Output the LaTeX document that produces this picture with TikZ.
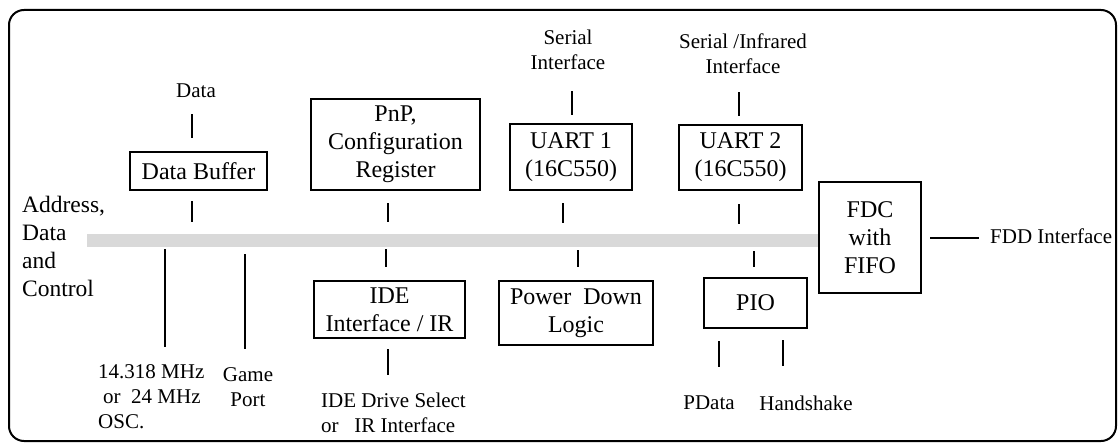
\documentclass[tikz,border=0pt]{standalone}
\usepackage{fontspec}
\setmainfont{Liberation Serif}
\definecolor{busgray}{HTML}{D9D9D9}
\begin{document}
\begin{tikzpicture}[x=1pt,y=-1pt,
  blk/.style={draw, line width=2pt, inner sep=0pt, align=center,
    font=\fontsize{24}{28}\selectfont},
  lbl/.style={inner sep=0pt, align=center, font=\fontsize{21}{25}\selectfont},
  wire/.style={line width=2.5pt},
  bus/.style={fill=busgray, draw=none, inner sep=0pt}]
\useasboundingbox (0,0) rectangle (1118,444);
\draw[line width=2pt, rounded corners=15pt] (9,10) rectangle (1116,441);
% bus
\node[bus, minimum width=731pt, minimum height=13pt] (bus) at (452.5,240.5) {};
% blocks
\node[blk, minimum width=137pt, minimum height=38pt] (db) at (198.5,171) {Data Buffer};
\node[blk, minimum width=169pt, minimum height=91pt] (pnp) at (395.5,144.5) {PnP,\\Configuration\\Register};
\node[blk, minimum width=151pt, minimum height=57pt] (ide) at (389.5,309.5) {IDE\\Interface / IR};
\node[blk, minimum width=122pt, minimum height=66pt] (u1) at (571,157) {UART 1\\(16C550)};
\node[blk, minimum width=154pt, minimum height=64pt] (pd) at (576,313) {Power~~Down\\Logic};
\node[blk, minimum width=123pt, minimum height=65pt] (u2) at (740.5,157.5) {UART 2\\(16C550)};
\node[blk, minimum width=103pt, minimum height=50pt] (pio) at (755.5,303) {PIO};
\node[blk, minimum width=102pt, minimum height=111pt] (fdc) at (870,237.5) {FDC\\with\\FIFO};
% labels
\node[lbl] (ldata) at (196,91) {Data};
\node[lbl] (lser1) at (568,49.5) {Serial\\Interface};
\node[lbl] (lser2) at (743,53.5) {Serial /Infrared\\Interface};
\node[lbl, anchor=west, align=left, font=\fontsize{23.5}{28}\selectfont] (laddr) at (22,246.5) {Address,\\Data\\and\\Control};
\node[lbl, anchor=west, align=left] (losc) at (98,397) {14.318 MHz\\\hspace{5pt}or~~24 MHz\\OSC.};
\node[lbl] (lgame) at (248,387) {Game\\Port};
\node[lbl, anchor=west, align=left] (lide) at (321,412.5) {IDE Drive Select\\or~~~IR Interface};
\node[lbl] (lpdata) at (709,403) {PData};
\node[lbl] (lhs) at (806,403) {Handshake};
\node[lbl, anchor=west] (lfdd) at (990,236) {FDD Interface};
% connector end points
\coordinate (a1) at (192,114); \coordinate (a2) at (192,138);
\coordinate (b1) at (192,201); \coordinate (b2) at (192,222);
\coordinate (c1) at (165,249); \coordinate (c2) at (165,347);
\coordinate (d1) at (245,254); \coordinate (d2) at (245,349);
\coordinate (e1) at (388,203); \coordinate (e2) at (388,222);
\coordinate (f1) at (386,249); \coordinate (f2) at (386,267);
\coordinate (g1) at (388,349); \coordinate (g2) at (388,375);
\coordinate (h1) at (572,91);  \coordinate (h2) at (572,115);
\coordinate (i1) at (563,203); \coordinate (i2) at (563,223);
\coordinate (j1) at (578,250); \coordinate (j2) at (578,267);
\coordinate (k1) at (739,92);  \coordinate (k2) at (739,116);
\coordinate (l1) at (739,204); \coordinate (l2) at (739,224);
\coordinate (m1) at (754,251); \coordinate (m2) at (754,267);
\coordinate (n1) at (719,341); \coordinate (n2) at (719,367);
\coordinate (o1) at (783,340); \coordinate (o2) at (783,366);
\coordinate (p1) at (930,238); \coordinate (p2) at (979,238);
\foreach \s in {a,b,c,d,e,f,g,h,i,j,k,l,m,n,o,p}
  \draw[wire] (\s1) -- (\s2);
\end{tikzpicture}
\end{document}
